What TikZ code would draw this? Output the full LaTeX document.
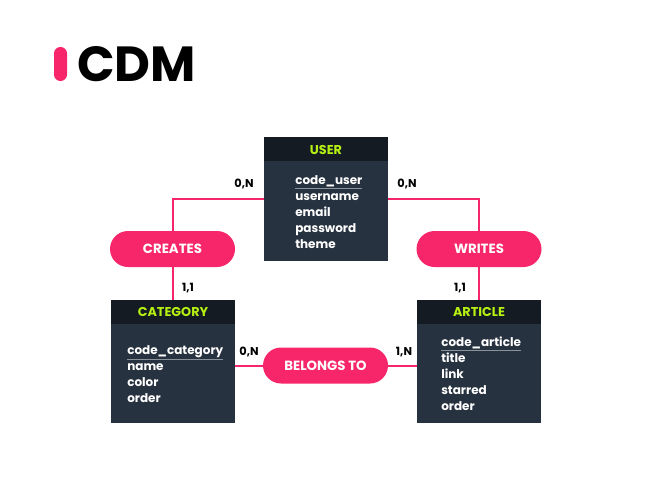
\documentclass[tikz,border=0pt]{standalone}
\usepackage{fontspec}
\setmainfont{Poppins}
\usetikzlibrary{shapes.misc}
\definecolor{pinkc}{HTML}{F7256A}
\definecolor{limec}{HTML}{B5F012}
\definecolor{bodyc}{HTML}{273240}
\definecolor{headc}{HTML}{151B23}
\definecolor{keyline}{HTML}{8A929C}
\tikzset{
  entity/.style={fill=bodyc, draw=none, inner sep=0pt, minimum width=93pt, minimum height=92.5pt},
  headtxt/.style={text=limec, font=\fontsize{9.6}{10}\selectfont\bfseries, inner sep=0pt},
  attr/.style={text=white, font=\fontsize{9}{10}\selectfont\bfseries, inner sep=0pt, anchor=base west},
  rel/.style={rounded rectangle, fill=pinkc, text=white, font=\fontsize{10}{11}\selectfont\bfseries, minimum width=93.75pt, minimum height=27pt, inner sep=0pt},
  card/.style={text=black, font=\fontsize{8.5}{10}\selectfont\bfseries, inner sep=0pt, anchor=base},
  conn/.style={draw=pinkc, line width=1.5pt}
}
\newcommand{\keyattr}[1]{\textcolor{keyline}{\underline{\textcolor{white}{#1}}}}
\begin{document}
\begin{tikzpicture}[x=0.75pt, y=-0.75pt]
\useasboundingbox (0,0) rectangle (650,500);
% logo
\fill[pinkc, rounded corners=4.8pt] (54,47) rectangle (67,81);
\node[anchor=base west, inner sep=0pt, font=\fontsize{37}{40}\selectfont\bfseries] (title) at (77,81) {CDM};
% entities
\node[entity] (user) at (326,199) {};
\fill[headc] (user.north west) rectangle ([yshift=-18pt]user.north east);
\node[headtxt] (userh) at (326,149.5) {USER};
\node[attr] (u1) at (295,184) {\keyattr{code\_user}};
\node[attr] (u2) at (295,200) {username};
\node[attr] (u3) at (295,216) {email};
\node[attr] (u4) at (295,232) {password};
\node[attr] (u5) at (295,248) {theme};

\node[entity] (category) at (173,361.5) {};
\fill[headc] (category.north west) rectangle ([yshift=-18pt]category.north east);
\node[headtxt] (cath) at (173,312) {CATEGORY};
\node[attr] (c1) at (127,354) {\keyattr{code\_category}};
\node[attr] (c2) at (127,370) {name};
\node[attr] (c3) at (127,386) {color};
\node[attr] (c4) at (127,402) {order};

\node[entity] (article) at (479,361.5) {};
\fill[headc] (article.north west) rectangle ([yshift=-18pt]article.north east);
\node[headtxt] (arth) at (479,312) {ARTICLE};
\node[attr] (a1) at (441,346) {\keyattr{code\_article}};
\node[attr] (a2) at (441,362) {title};
\node[attr] (a3) at (441,378) {link};
\node[attr] (a4) at (441,394) {starred};
\node[attr] (a5) at (441,410) {order};
% relations
\node[rel] (creates) at (172.5,249) {CREATES};
\node[rel] (writes) at (479,249) {WRITES};
\node[rel] (belongs) at (325.5,365.5) {BELONGS TO};
% connectors
\draw[conn] (creates.north) |- (user.west);
\draw[conn] (creates.south) -- (creates.south |- category.north);
\draw[conn] (writes.north) |- (user.east);
\draw[conn] (writes.south) -- (writes.south |- article.north);
\draw[conn] (category.east |- belongs.west) -- (belongs.west);
\draw[conn] (belongs.east) -- (article.west |- belongs.east);
% cardinalities
\node[card] (k1) at (244,187) {0,N};
\node[card] (k2) at (188,291.5) {1,1};
\node[card] (k3) at (407,187) {0,N};
\node[card] (k4) at (460,291.5) {1,1};
\node[card] (k5) at (249,355) {0,N};
\node[card] (k6) at (404,355) {1,N};
\end{tikzpicture}
\end{document}
